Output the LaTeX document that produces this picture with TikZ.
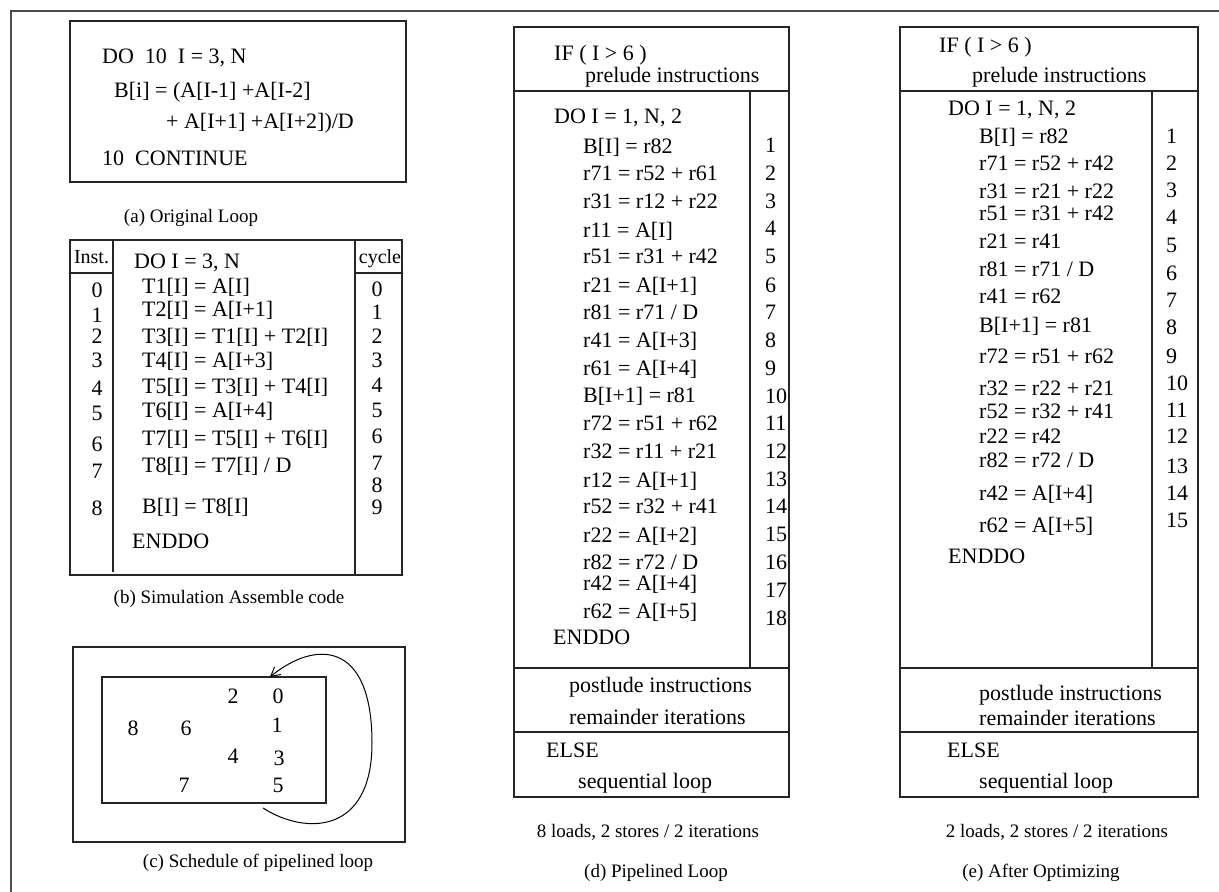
\documentclass[tikz,border=0pt]{standalone}
\usepackage{fontspec}
\setmainfont{Liberation Serif}
\usetikzlibrary{arrows.meta}
\tikzset{
  box/.style={draw=black!85, line width=1.2pt},
  code/.style={anchor=base west, inner sep=0pt, font=\fontsize{22}{26}\selectfont},
  num/.style={anchor=base, inner sep=0pt, font=\fontsize{22}{26}\selectfont},
  head/.style={anchor=base, inner sep=0pt, font=\fontsize{20}{24}\selectfont},
  caption/.style={anchor=base, inner sep=0pt, font=\fontsize{19}{22}\selectfont},
}

\begin{document}
\begin{tikzpicture}[x=1pt, y=-1pt]
      \useasboundingbox (0,0) rectangle (1219,892);
      \draw[box, draw=black!70] (10,11) -- (1219,11);
      \draw[box, draw=black!70] (11,11) -- (11,892);

      % (a)
      \draw[box] (70,21) rectangle (406,182);
      \node[code] (a1) at (102,63) {DO\ \ 10\ \ I = 3, N};
      \node[code] (a2) at (114,97) {B[i] = (A[I-1] +A[I-2]};
      \node[code] (a3) at (166,128) {+ A[I+1] +A[I+2])/D};
      \node[code] (a4) at (102,165) {10\ \ CONTINUE};
      \node[caption] (capa) at (191,222) {(a) Original Loop};

      % (b)
      \draw[box] (70,240) rectangle (402,575);
      \draw[box] (113,240) -- (113,572);
      \draw[box] (355,240) -- (355,575);
      \draw[box] (70,273) -- (113,273);
      \draw[box] (355,273) -- (402,273);
      \node[head] (inst) at (91.5,263) {Inst.};
      \node[head] (cycle) at (380,263) {cycle};
      \node[code] (bdo) at (134,268) {DO I = 3, N};
      \foreach \y/\t [count=\i] in {293/{T1[I] = A[I]}, 316/{T2[I] = A[I+1]},
          343/{T3[I] = T1[I] + T2[I]}, 367/{T4[I] = A[I+3]},
          393/{T5[I] = T3[I] + T4[I]}, 417/{T6[I] = A[I+4]},
          445/{T7[I] = T5[I] + T6[I]}, 472/{T8[I] = T7[I] / D},
          513/{B[I] = T8[I]}}
        \node[code] (brow\i) at (142,\y) {\t};
      \node[code] (benddo) at (132,548) {ENDDO};
      \foreach \n/\y in {0/297, 1/322, 2/343, 3/367, 4/395, 5/420, 6/451, 7/478, 8/515}
        \node[num] (binst\n) at (97,\y) {\n};
      \foreach \n/\y in {0/296, 1/319, 2/343, 3/367, 4/392, 5/417, 6/443, 7/470, 8/492, 9/514}
        \node[num] (bcyc\n) at (377,\y) {\n};
      \node[caption] (capb) at (229,603) {(b) Simulation Assemble code};

      % (c)
      \draw[box] (73,647) rectangle (405,842);
      \draw[box] (102,677) rectangle (326,803);
      \foreach \n/\x/\y in {2/233/703, 0/278/703, 8/133/735, 6/186/735, 1/277/732,
          4/233/763, 3/279/765, 7/184/792, 5/278/792}
        \node[num] (c\n) at (\x,\y) {\n};
      \coordinate (loopout) at (263,808);
      \coordinate (loopin) at (270,677);
      \draw[line width=1pt, -{Straight Barb[length=9pt, width=10pt]}]
            (loopout) .. controls (305,835) and (372,835) .. (372,743)
            .. controls (372,640) and (315,640) .. (loopin);
      \node[caption] (capc) at (258,867) {(c) Schedule of pipelined loop};

      % (d)
      \draw[box] (514,27) rectangle (789,797);
      \draw[box] (514,91) -- (789,91);
      \draw[box] (750,91) -- (750,668);
      \draw[box] (514,668) -- (789,668);
      \draw[box] (514,732) -- (789,732);
      \node[code] (dif) at (554,60) {IF ( I > 6 )};
      \node[code] (dpre) at (585,82) {prelude instructions};
      \node[code] (ddo) at (554,123) {DO I = 1, N, 2};
      \foreach \y/\t [count=\i] in {153/{B[I] = r82}, 180/{r71 = r52 + r61},
          208/{r31 = r12 + r22}, 237/{r11 = A[I]}, 263/{r51 = r31 + r42},
          292/{r21 = A[I+1]}, 319/{r81 = r71 / D}, 347/{r41 = A[I+3]},
          375/{r61 = A[I+4]}, 402/{B[I+1] = r81}, 430/{r72 = r51 + r62},
          458/{r32 = r11 + r21}, 487/{r12 = A[I+1]}, 513/{r52 = r32 + r41},
          542/{r22 = A[I+2]}, 569/{r82 = r72 / D}, 590/{r42 = A[I+4]},
          618/{r62 = A[I+5]}}
        \node[code] (drow\i) at (583,\y) {\t};
      \foreach \y [count=\n] in {152, 180, 208, 235, 263, 292, 319, 347, 375,
          403, 430, 458, 486, 513, 541, 569, 597, 625}
        \node[code] (dnum\n) at (765,\y) {\n};
      \node[code] (denddo) at (553,644) {ENDDO};
      \node[code] (dpost) at (569,692) {postlude instructions};
      \node[code] (drem) at (569,724) {remainder iterations};
      \node[code] (delse) at (546,757) {ELSE};
      \node[code] (dseq) at (578,788) {sequential loop};
      \node[caption] (dload) at (648,837) {8 loads, 2 stores / 2 iterations};
      \node[caption] (capd) at (656,877) {(d) Pipelined Loop};

      % (e)
      \draw[box] (900,27) rectangle (1198,797);
      \draw[box] (900,91) -- (1198,91);
      \draw[box] (1152,91) -- (1152,668);
      \draw[box] (900,668) -- (1198,668);
      \draw[box] (900,732) -- (1198,732);
      \node[code] (eif) at (939,52) {IF ( I > 6 )};
      \node[code] (epre) at (972,82) {prelude instructions};
      \node[code] (edo) at (948,115) {DO I = 1, N, 2};
      \foreach \y/\t [count=\i] in {143/{B[I] = r82}, 170/{r71 = r52 + r42},
          198/{r31 = r21 + r22}, 220/{r51 = r31 + r42}, 248/{r21 = r41},
          276/{r81 = r71 / D}, 303/{r41 = r62}, 332/{B[I+1] = r81},
          363/{r72 = r51 + r62}, 395/{r32 = r22 + r21}, 418/{r52 = r32 + r41},
          443/{r22 = r42}, 467/{r82 = r72 / D}, 500/{r42 = A[I+4]},
          532/{r62 = A[I+5]}}
        \node[code] (erow\i) at (979,\y) {\t};
      \foreach \y [count=\n] in {143, 170, 197, 224, 252, 280, 307, 334, 363,
          390, 417, 443, 473, 500, 527}
        \node[code] (enum\n) at (1166,\y) {\n};
      \node[code] (eenddo) at (948,563) {ENDDO};
      \node[code] (epost) at (979,700) {postlude instructions};
      \node[code] (erem) at (979,725) {remainder iterations};
      \node[code] (eelse) at (947,757) {ELSE};
      \node[code] (eseq) at (979,788) {sequential loop};
      \node[caption] (eload) at (1057,837) {2 loads, 2 stores / 2 iterations};
      \node[caption] (cape) at (1041,877) {(e) After Optimizing};
\end{tikzpicture}
\end{document}
